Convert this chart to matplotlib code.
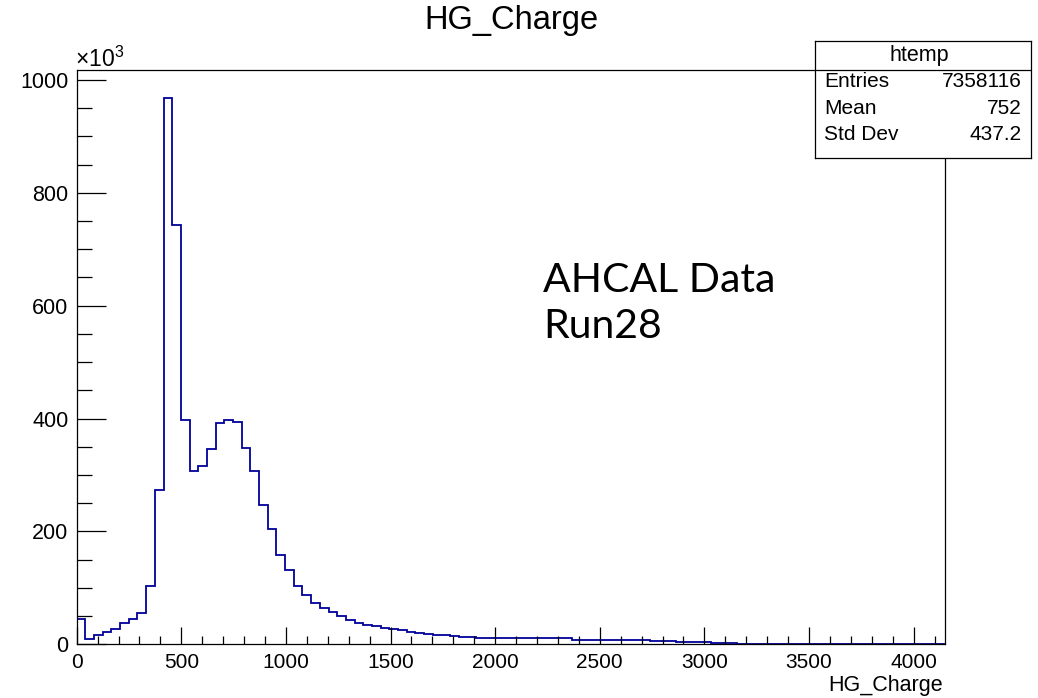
import matplotlib
matplotlib.use("Agg")

import matplotlib.pyplot as plt
from matplotlib.ticker import MultipleLocator
import numpy as np

plt.rcParams['font.family'] = ['Liberation Sans', 'DejaVu Sans']

# histogram: 100 bins from 0 to 4150, counts in thousands
x_min, x_max, n_bins = 0, 4150, 100
counts_k = [
    44.6, 10.1, 15.6, 21.0, 27.7, 37.2, 45.3, 56.0, 102.8, 273.0,
    967.5, 743.7, 397.6, 307.6, 316.4, 346.2, 391.5, 397.6, 394.2, 348.2,
    307.6, 246.8, 204.9, 158.9, 131.2, 102.8, 87.9, 73.7, 64.3, 56.6,
    49.6, 43.1, 38.3, 34.2, 31.9, 28.9, 27.1, 24.8, 22.4, 20.6,
    18.3, 17.1, 15.9, 14.0, 13.6, 13.4, 11.8, 11.6, 11.4, 11.2,
    11.0, 10.9, 10.8, 10.7, 10.6, 10.5, 10.4, 7.5, 7.4, 7.3,
    7.2, 7.1, 7.0, 6.9, 6.8, 6.8, 6.7, 6.6, 6.5, 4.6,
    4.4, 4.3, 4.2, 1.8, 1.6, 1.5, 1.4, 1.3, 0, 0,
    0, 0, 0, 0, 0, 0, 0, 0, 0, 0,
    0, 0, 0, 0, 0, 0, 0, 0, 0, 0,
]
stats_labels = ["Entries", "Mean", "Std Dev"]
stats_values = ["7358116", "752", "437.2"]
note_lines = ["AHCAL Data", "Run28"]

W, H = 1038, 698
fig = plt.figure(figsize=(W / 100, H / 100), dpi=100)
ax = fig.add_axes([76.7 / W, 1 - 644.3 / H, (945 - 76.7) / W, (644.3 - 70) / H])

edges = np.linspace(x_min, x_max, n_bins + 1)
ax.stairs(counts_k, edges, color='#000099', lw=1.3)

ax.set_xlim(x_min, x_max)
ax.set_ylim(0, 1017.7)
ax.xaxis.set_major_locator(MultipleLocator(500))
ax.xaxis.set_minor_locator(MultipleLocator(100))
ax.yaxis.set_major_locator(MultipleLocator(200))
ax.yaxis.set_minor_locator(MultipleLocator(50))
ax.tick_params(axis='x', which='major', direction='in', length=12.5, width=0.9, labelsize=15, pad=6)
ax.tick_params(axis='x', which='minor', direction='in', length=6, width=0.9)
ax.tick_params(axis='y', which='major', direction='in', length=21, width=0.9, labelsize=15.5, pad=6)
ax.tick_params(axis='y', which='minor', direction='in', length=10.5, width=0.9)
for s in ax.spines.values():
    s.set_linewidth(0.9)

# titles and labels
fig.text(511 / W, 1 - 29.3 / H, "HG_Charge", ha='center', va='baseline', fontsize=23.5)
fig.text(943 / W, 1 - 691.5 / H, "HG_Charge", ha='right', va='baseline', fontsize=15.5)
fig.text(75 / W, 1 - 66.7 / H, r"$\mathregular{\times10^{3}}$", ha='left', va='baseline', fontsize=16.5)

# annotation
for line, yb in zip(note_lines, [292.3, 338.3]):
    fig.text(543 / W, 1 - yb / H, line, ha='left', va='baseline', fontsize=29.5, family='Lato')

# stats box
bx = fig.add_axes([815 / W, 1 - 158 / H, (1031 - 815) / W, (158 - 41) / H])
bx.set_xlim(0, 1)
bx.set_ylim(0, 1)
bx.set_xticks([])
bx.set_yticks([])
bx.set_facecolor('white')
for s in bx.spines.values():
    s.set_linewidth(0.9)
div = (158 - 69.5) / 117
bx.axhline(div, color='black', lw=0.9)
bx.text(0.485, (158 - 61) / 117, "htemp", ha='center', va='baseline', fontsize=15.5)
row_base = [87.3, 114, 140.5]
for lab, val, yb in zip(stats_labels, stats_values, row_base):
    yy = (158 - yb) / 117
    bx.text(9 / 216, yy, lab, ha='left', va='baseline', fontsize=15)
    bx.text(207 / 216, yy, val, ha='right', va='baseline', fontsize=15)

fig.savefig("out.png", dpi=100)
